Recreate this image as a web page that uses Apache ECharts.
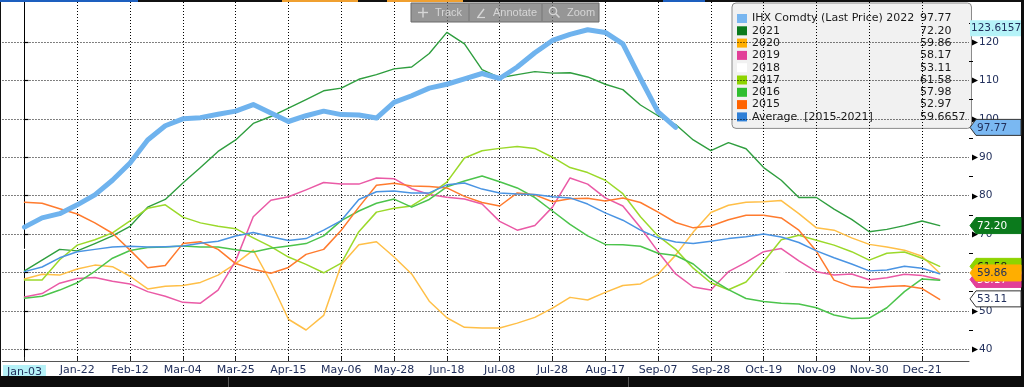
<!DOCTYPE html>
<html><head><meta charset="utf-8">
<script src="https://cdn.jsdelivr.net/npm/echarts@6/dist/echarts.min.js"></script>
<style>html,body{margin:0;padding:0;background:#fff;overflow:hidden}#c{width:1024px;height:387px}</style>
</head><body><div id="c"></div><script>
// ---- tick labels (one every 15 trading days = 3 weeks) ----
const tickLabels = ['Jan-03','Jan-22','Feb-12','Mar-04','Mar-25','Apr-15','May-06','May-28','Jun-18','Jul-08','Jul-28','Aug-17','Sep-07','Sep-28','Oct-19','Nov-09','Nov-30','Dec-21'];
const yTicks = [40,50,60,70,80,90,100,110,120];
const yMinorTicks = [45,55,65,75,85,95,105,115,125];

// ---- weekly values (index 0 = Jan-03) ----
const ihx2022 = [71.8,74.2,75.3,77.6,80.2,84.0,88.5,94.5,98.2,100.0,100.3,101.2,102.0,103.7,101.5,99.3,100.8,102.0,101.1,101.0,100.2,104.3,106.0,108.0,109.0,110.4,111.8,110.5,113.5,117.2,120.4,122.0,123.2,122.5,119.5,110.5,101.8,97.77];
const y2021 = [60.4,63.2,66.0,65.6,67.5,69.5,72.0,77.0,79.0,83.3,87.3,91.5,94.5,98.8,100.6,102.8,105.0,107.3,108.0,110.3,111.5,113.0,113.5,117.0,122.5,119.5,112.8,110.7,111.5,112.3,111.9,112.0,110.9,109.0,107.6,103.6,100.8,98.5,94.5,91.7,93.8,92.2,87.3,84.0,79.5,79.5,76.5,73.8,70.6,71.2,72.2,73.4,72.2];
const y2020 = [58.3,59.5,59.3,60.9,61.9,61.5,59.0,55.7,56.4,56.6,57.4,59.3,62.3,65.8,57.5,47.8,45.0,48.8,62.0,67.2,68.0,64.0,59.6,52.5,48.2,45.7,45.5,45.5,46.8,48.3,50.7,53.5,52.8,54.8,56.6,57.0,59.5,64.5,70.5,75.6,77.5,78.3,78.4,78.7,75.3,71.6,71.0,69.0,67.3,66.6,65.8,64.2,59.86];
const y2019 = [53.6,54.5,57.2,58.4,58.7,57.7,57.0,55.0,53.8,52.2,52.0,55.4,63.0,74.5,78.8,79.7,81.5,83.4,83.0,83.0,84.6,84.4,81.8,80.3,79.6,79.1,77.8,73.3,71.0,72.2,77.0,84.6,83.0,79.4,77.3,71.7,65.4,59.6,56.2,55.4,60.2,62.6,65.4,66.2,63.0,60.2,59.3,59.6,58.1,58.6,59.5,59.2,58.17];
const y2018 = [66.0,66.5,67.0,68.0,69.0,69.5,70.0,70.5,71.0,71.0,71.5,72.0,72.5,73.0,73.5,74.0,74.5,75.0,75.5,76.0,76.0,75.5,75.0,74.5,74.0,73.5,73.0,72.5,72.0,71.5,71.0,70.5,70.0,69.5,69.0,68.0,67.0,66.0,65.0,64.0,63.0,62.0,61.0,60.0,59.0,58.0,57.0,56.0,55.5,55.0,54.5,54.0,53.11];
const y2017 = [58.0,58.0,63.3,67.1,68.5,70.3,73.4,76.7,77.6,74.4,72.9,72.0,71.4,69.0,66.7,64.0,62.1,59.9,62.4,70.6,75.7,76.7,77.3,80.2,83.5,89.8,91.7,92.3,92.8,92.3,90.0,87.3,86.0,84.0,80.5,74.5,69.5,66.0,61.1,57.3,55.5,57.5,62.8,68.5,69.7,68.4,67.1,65.4,63.2,65.0,65.3,63.7,61.58];
const y2016 = [53.3,53.8,55.4,57.3,60.3,63.7,65.7,66.5,66.6,66.9,66.6,66.6,65.9,65.3,66.3,66.9,67.5,69.5,73.5,76.0,78.0,79.1,77.0,79.0,82.3,83.8,85.1,83.6,82.0,79.5,76.0,72.5,69.5,67.3,67.2,66.8,65.0,64.4,62.2,58.3,55.5,53.2,52.4,52.0,51.8,50.8,48.9,48.0,48.1,50.8,55.0,58.3,57.98];
const y2015 = [78.3,78.0,76.6,75.2,72.9,70.2,65.8,61.2,61.8,67.5,68.0,66.0,62.3,60.8,59.8,61.3,64.7,66.0,71.0,77.0,82.7,83.2,82.5,82.4,82.0,79.8,78.2,77.3,80.7,80.2,78.4,79.2,79.3,78.6,79.4,78.2,75.7,73.0,71.6,72.1,73.7,74.9,74.9,74.2,71.0,65.5,58.0,56.3,56.0,56.3,56.5,55.8,52.97];
const yAvg = [60.2,61.4,63.8,65.4,66.0,66.6,66.8,66.6,66.7,66.9,67.6,68.1,69.5,70.4,69.3,68.3,68.8,71.0,73.5,79.0,81.0,81.2,80.7,80.7,82.8,83.3,81.7,80.7,80.4,80.3,79.7,79.4,77.8,75.5,73.6,71.0,69.0,67.9,67.5,68.1,68.8,69.3,70.0,69.2,67.8,65.6,63.8,62.2,60.4,60.6,61.6,61.1,59.6657];

// ---- legend ----
const seriesNames = ['IHX Comdty (Last Price) 2022','2021','2020','2019','2018','2017','2016','2015','Average  [2015-2021]'];
const lastValues = ['97.77','72.20','59.86','58.17','53.11','61.58','57.98','52.97','59.6657'];
const highValue = 123.6157;

const seriesValues = [ihx2022,y2021,y2020,y2019,y2018,y2017,y2016,y2015,yAvg];
const lineColors = ['#6fb3ee','#2f9e3f','#ffbf47','#ea5aa6','#ffffff','#9bd92a','#4cc44c','#ff7b2e','#4a94e3'];
const iconColors = ['#78b6f0','#0b7a1c','#ffae00','#e23f98','#ffffff','#8ed400','#2fbe2f','#ff6300','#2f7fd6'];
const lineWidths = [5,1.4,1.5,1.5,1.4,1.5,1.5,1.5,1.5];
const zOrder = [10,3,3,3,1,3,3,3,4];

const FONT = 'DejaVu Sans';
const navy = '#22305c';
const gridDot = {color: '#000', width: 1, type: [1, 2]};

const chart = echarts.init(document.getElementById('c'), null, {renderer:'canvas'});

const series = seriesValues.map((vals, k) => ({
  name: seriesNames[k],
  type: 'line',
  data: vals.map((v, i) => [i, v]),
  showSymbol: false,
  symbol: 'none',
  z: zOrder[k],
  lineStyle: {color: lineColors[k], width: lineWidths[k], cap: 'round', join: 'round'},
  itemStyle: {color: lineColors[k]},
  emphasis: {disabled: true},
  animation: false
}));

const lvMap = {};
seriesNames.forEach((n, i) => lvMap[n] = lastValues[i]);

const option = {
  animation: false,
  backgroundColor: '#ffffff',
  grid: {left: 1, right: 55, top: 2, bottom: 26, containLabel: false},
  xAxis: {
    type: 'value', min: -1.248, max: 53.668,
    axisLine: {show: true, lineStyle: {color: '#555', width: 1}},
    axisTick: {show: true, inside: true, length: 4, lineStyle: {color: '#222'}, customValues: tickLabels.map((_, i) => i * 3)},
    axisLabel: {
      customValues: tickLabels.map((_, i) => i * 3),
      margin: 4, color: navy, fontFamily: FONT, fontSize: 11,
      formatter: v => { const i = Math.round(v / 3); return i === 0 ? '{hl|' + tickLabels[i] + '}' : tickLabels[i]; },
      rich: {hl: {backgroundColor: '#b5f1f7', padding: [2, 4, 1, 4], color: navy, fontFamily: FONT, fontSize: 11}}
    },
    splitLine: {show: true, lineStyle: gridDot}
  },
  yAxis: [{
    type: 'value', position: 'right', min: 36.93, max: 130.42,
    axisLine: {show: true, lineStyle: {color: '#000', width: 1}},
    axisTick: {show: true, length: 4, lineStyle: {color: '#000', width: 1.2}, customValues: yTicks},
    axisLabel: {customValues: yTicks, margin: 10, color: navy, fontFamily: FONT, fontSize: 10.5},
    splitLine: {show: true, lineStyle: gridDot}
  }, {
    type: 'value', position: 'right', min: 36.93, max: 130.42,
    axisLine: {show: false},
    axisTick: {show: true, length: 4, lineStyle: {color: '#000', width: 1}, customValues: yMinorTicks},
    axisLabel: {show: false},
    splitLine: {show: false}
  }],
  legend: {
    z: -1,
    orient: 'vertical', left: 732, top: 3,
    backgroundColor: '#f1f1f1', borderColor: '#8a8a8a', borderWidth: 1, borderRadius: 4,
    padding: [10, 6, 6, 5],
    itemWidth: 10, itemHeight: 9, itemGap: 1.3, icon: 'rect',
    selectedMode: false,
    data: seriesNames.map((n, i) => ({name: n, itemStyle: {color: iconColors[i], borderWidth: 0}, lineStyle: {opacity: 0}})),
    formatter: n => '{n|' + n + '}{v|' + lvMap[n] + '}',
    textStyle: {
      color: '#1a1a1a', fontFamily: FONT, fontSize: 11,
      rich: {
        n: {width: 168, fontFamily: FONT, fontSize: 11, lineHeight: 13, color: '#1a1a1a'},
        v: {fontFamily: FONT, fontSize: 11, lineHeight: 13, color: '#1a1a1a'}
      }
    }
  },
  series: series
};
chart.setOption(option);

// ---- right-axis value badges, positioned through the y axis scale ----
const badgeDefs = [
  {v: 61.58, fill: '#8ed400', stroke: null, color: '#1a1a1a'},
  {v: 58.17, fill: '#e23f98', stroke: null, color: '#ffffff'},
  {v: 59.86, fill: '#ffae00', stroke: null, color: navy},
  {v: 53.11, fill: '#ffffff', stroke: '#333', color: navy},
  {v: 72.20, fill: '#0b7a1c', stroke: null, color: '#ffffff'},
  {v: 97.77, fill: '#7ab8f2', stroke: '#333', color: navy}
];
const gx = 969, gr = 1021;
const graphics = [];
// frame pieces
graphics.push({type: 'rect', shape: {x: 0, y: 0, width: 1024, height: 2}, style: {fill: '#111'}, z: 100});
graphics.push({type: 'rect', shape: {x: 0, y: 0, width: 138, height: 2}, style: {fill: '#1d5fbf'}, z: 101});
graphics.push({type: 'rect', shape: {x: 282, y: 0, width: 76, height: 2}, style: {fill: '#f0a030'}, z: 101});
graphics.push({type: 'rect', shape: {x: 387, y: 0, width: 76, height: 2}, style: {fill: '#f0a030'}, z: 101});
graphics.push({type: 'rect', shape: {x: 663, y: 0, width: 42, height: 2}, style: {fill: '#1d5fbf'}, z: 101});
graphics.push({type: 'rect', shape: {x: 0, y: 0, width: 1, height: 387}, style: {fill: '#111'}, z: 100});
graphics.push({type: 'rect', shape: {x: 0, y: 376, width: 1024, height: 11}, style: {fill: '#0c0c0c'}, z: 100});
graphics.push({type: 'rect', shape: {x: 228, y: 377, width: 1, height: 10}, style: {fill: '#555'}, z: 101});
graphics.push({type: 'rect', shape: {x: 628, y: 377, width: 1, height: 10}, style: {fill: '#555'}, z: 101});
graphics.push({type: 'rect', shape: {x: gr, y: 0, width: 3, height: 387}, style: {fill: '#0c0c0c'}, z: 100});

// arrow heads on the major right-axis ticks
yTicks.forEach(t => {
  const ty = Math.round(chart.convertToPixel({yAxisIndex: 0}, t)) + 0.5;
  graphics.push({type: 'polygon', z: 105, shape: {points: [[972, ty - 3], [978, ty], [972, ty + 3]]}, style: {fill: '#000'}});
});

// high value (crosshair style) box
const yHigh = chart.convertToPixel({yAxisIndex: 0}, highValue);
graphics.push({type: 'rect', shape: {x: 970, y: yHigh - 8, width: gr - 970, height: 16}, style: {fill: '#b5f3f8'}, z: 110});
graphics.push({type: 'text', x: 971, y: yHigh, style: {text: highValue.toFixed(4), fill: navy, font: '10.5px "DejaVu Sans"', align: 'left', verticalAlign: 'middle'}, z: 111});

badgeDefs.forEach((b, i) => {
  const cy = chart.convertToPixel({yAxisIndex: 0}, b.v);
  graphics.push({
    type: 'polygon', z: 120 + i * 2,
    shape: {points: [[gx + 1, cy], [gx + 7, cy - 8], [gr, cy - 8], [gr, cy + 8], [gx + 7, cy + 8]]},
    style: {fill: b.fill, stroke: b.stroke || b.fill, lineWidth: 1}
  });
  graphics.push({type: 'text', z: 121 + i * 2, x: 977, y: cy + 0.5,
    style: {text: b.v.toFixed(2), fill: b.color, font: '10.5px "DejaVu Sans"', align: 'left', verticalAlign: 'middle'}});
});

// toolbar overlay
const tb = {type: 'group', x: 411, y: 3, z: 130, children: [
  {type: 'rect', shape: {x: 0, y: 0, width: 188, height: 19}, style: {fill: 'rgba(120,120,120,0.78)', stroke: '#6a6a6a', lineWidth: 1}},
  {type: 'line', shape: {x1: 58, y1: 1, x2: 58, y2: 18}, style: {stroke: '#777', lineWidth: 1}},
  {type: 'line', shape: {x1: 131, y1: 1, x2: 131, y2: 18}, style: {stroke: '#777', lineWidth: 1}},
  {type: 'line', shape: {x1: 7, y1: 9.5, x2: 17, y2: 9.5}, style: {stroke: '#d6d6d6', lineWidth: 1.4}},
  {type: 'line', shape: {x1: 12, y1: 4.5, x2: 12, y2: 14.5}, style: {stroke: '#d6d6d6', lineWidth: 1.4}},
  {type: 'text', x: 24, y: 10, style: {text: 'Track', fill: '#d6d6d6', font: '11px "Liberation Sans"', verticalAlign: 'middle'}},
  {type: 'line', shape: {x1: 67, y1: 14, x2: 73, y2: 6}, style: {stroke: '#d6d6d6', lineWidth: 1.4}},
  {type: 'line', shape: {x1: 66, y1: 14.5, x2: 74, y2: 14.5}, style: {stroke: '#d6d6d6', lineWidth: 1.2}},
  {type: 'text', x: 82, y: 10, style: {text: 'Annotate', fill: '#d6d6d6', font: '11px "Liberation Sans"', verticalAlign: 'middle'}},
  {type: 'circle', shape: {cx: 142, cy: 8, r: 3.6}, style: {fill: 'none', stroke: '#d6d6d6', lineWidth: 1.4}},
  {type: 'line', shape: {x1: 144.8, y1: 10.8, x2: 148.5, y2: 14.5}, style: {stroke: '#d6d6d6', lineWidth: 1.6}},
  {type: 'text', x: 156, y: 10, style: {text: 'Zoom', fill: '#d6d6d6', font: '11px "Liberation Sans"', verticalAlign: 'middle'}}
]};
graphics.push(tb);

chart.setOption({graphic: graphics});
</script></body></html>
